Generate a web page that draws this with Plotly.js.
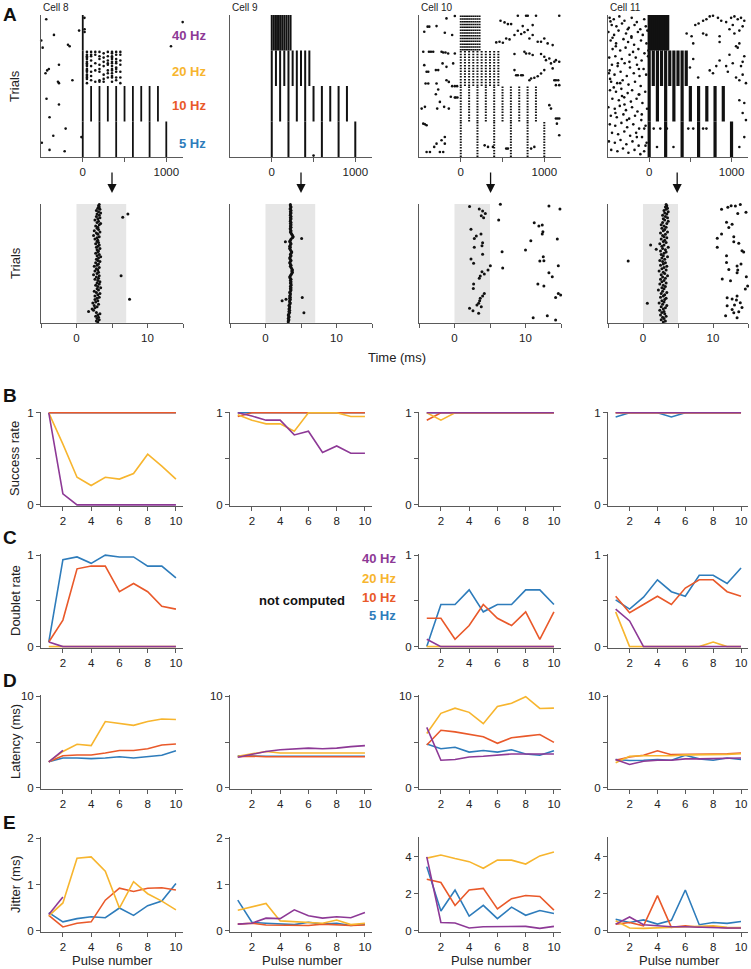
<!DOCTYPE html>
<html><head><meta charset="utf-8">
<script src="https://cdn.plot.ly/plotly-3.0.1.min.js"></script>
<style>html,body{margin:0;padding:0;background:#fff}</style>
</head><body><div id="chart" style="width:751px;height:969px"></div>
<script>
// ---------------- DATA ----------------
const cells = ['Cell 8','Cell 9','Cell 10','Cell 11'];
const freqs = [5,10,20,40];
const freqLabels = ['40 Hz','20 Hz','10 Hz','5 Hz'];
const pulses = [1,2,3,4,5,6,7,8,9,10];

// raster A (top): pulse times per frequency (ms) and trial blocks
const pulseTimes5  = [0,200,400,600,800,1000];
const pulseTimes10 = [0,100,200,300,400,500,600,700,800,900];
const pulseTimes20 = [0,50,100,150,200,250,300,350,400,450];
const pulseTimes40 = [0,25,50,75,100,125,150,175,200,225];
const block5 = [0,25], block10 = [25,50], block20 = [50,75], block40 = [75,100];
// pulses that evoked a spike on every trial, per cell [5Hz,10Hz,20Hz,40Hz]
const fullPulsesCell8  = [[1,2,3,4,5,6],[1,2,3,4,5,6,7,8,9,10],[1],[1]];
const fullPulsesCell9  = [[1,2,3,4,5,6],[1,2,3,4,5,6,7,8,9,10],[1,2,3,4,5,6,7,8,9,10],[1,2,3,4,5,6,7,8,9,10]];
const fullPulsesCell10 = [[1,2,3,4,5,6],[1,2,3,4,5,6,7,8,9,10],[1,2,3,4,5,6,7,8,9,10],[1,2,3,4,5,6,7,8,9,10]];
const fullPulsesCell11 = [[1,2,3,4,5,6],[1,2,3,4,5,6,7,8,9,10],[1,2,3,4,5,6,7,8,9,10],[1,2,3,4,5,6,7,8,9,10]];
// cell 8, 20 Hz: trials with a spike for pulses 1..10 (pulse 1 in every trial)
const cell8Sparse20 = [[],
 [74,72,71,70,69,67,66,65,64,62,61,60,58,57,56,55,52],
 [74,72,71,68,64,60,57,54],
 [74,72,66,61,53],
 [74,71,69,65,62,60,54,53],
 [73,70,67,64,58,55,53],
 [74,71,68,66,65,61,59,56],
 [74,73,71,70,69,67,66,64,62,61,59,57,56,53],
 [74,72,69,67,66,63,62,60,56,54],
 [74,72,68,65,60,56,52]];
// spontaneous spikes (time ms, trial)
const spont8T = [-437,-345,-497,-480,-177,-157,-44,-406,-426,-446,-285,-124,-297,-285,-434,-285,-398,-205,-353,-490,-398,-217,-16,1196,1056,20,22,22];
const spont8Y = [97,86,82,77,79,78,89,62,61,59,65,54,53,52,41,37,28,20,15,10,5,4,14,95,78,98,90,88];
const spont9T = [500];
const spont9Y = [1];
const spont10T = [-437,-397,-377,-290,-191,-171,-71,-103,-449,-381,-357,-330,-230,-210,-183,-151,-71,-437,-409,-389,-298,-270,-218,-171,-91,-421,-389,-290,-270,-171,-143,-103,-71,-44,-71,-60,-40,-298,-429,-468,-250,-199,-143,-282,-449,-429,-409,-191,-230,-290,-318,-409,-369,-250,-210,-191,
 476,524,564,603,683,782,802,901,1179,425,464,504,544,584,643,683,723,762,802,822,861,921,961,1000,1040,1100,861,742,643,762,782,822,861,961,1000,1020,1060,1120,1179,1139,663,683,723,742,822,842,881,921,961,1000,1080,1100,643,1120,1139,1167,1139,1179,1060,1080,1139,1159,1179,1179,1151,286,326,385,544,564,842,881,-119];
const spont10Y = [88.2,91.8,91.8,92.2,87.5,97.6,99.3,85.9,74.1,74.1,74.1,74.1,74.1,73.6,73.6,72.9,72.9,64.7,60,60,61.2,61.2,65.9,63.5,65.9,51.8,51.8,51.8,47.5,54.1,52.9,49.9,49.9,49.9,41.9,41.9,41.9,44.2,35.3,34.1,38.8,35.3,34.1,34.1,23.5,23.1,22.4,14.1,11.8,9.4,7.1,3.5,3.5,3.5,3.5,9.4,
 96,94.8,93.6,93.6,99.5,99.5,99.5,99.5,99.5,80.7,81.2,80.5,83.5,82.8,85.9,88.9,86.6,87.8,89.4,83.5,85.9,81.2,81.2,83.5,80,78.8,92.9,92.2,72.5,74.1,72.9,72.9,71.8,72.5,70.6,68.2,69.4,67.1,67.1,68.2,57.6,57.6,57.6,57.6,54.1,55.3,55.8,56.9,58.8,61.2,65.9,62.4,61.2,54.1,54.1,54.1,50.6,50.6,36.5,34.1,27.1,27.1,27.1,15.3,23.5,8.2,7.1,7.1,5.9,5.9,5.9,7.1,42.4];
const spont11T = [-480,-430,-362,-300,-212,-150,-60,-455,-398,-330,-247,-178,-108,-41,-495,-426,-372,-281,-216,-137,-78,-22,-468,-402,-312,-256,-183,-99,-33,-444,-352,-286,-196,-131,-57,-485,-411,-333,-238,-163,-92,-14,-452,-383,-298,-233,-148,-68,-490,-421,-347,-272,-187,-117,-37,-462,-388,-322,-251,-172,-103,-476,-403,-338,-261,-207,-127,-48,-447,-368,-303,-222,-153,-82,-496,-418,-357,-282,-208,-142,-26,-466,-393,-313,-243,-172,-96,-478,-412,-337,-267,-193,-122,-44,-451,-377,-302,-231,-158,-87,-489,-417,-348,-277,-203,-128,-31,-461,-386,-318,-252,-178,-107,-61,
 -470,-445,-405,-380,-352,-260,-240,-120,-90,-480,-430,-300,-270,-150,-45,-475,-410,-330,-215,-125,-60,-10,
 560,600,655,695,735,775,835,875,935,995,1035,1075,1115,1155,1135,1095,1015,975,455,515,655,695,855,1035,535,855,1095,1055,1075,1155,1135,1115,1015,975,935,855,815,735,775,955,1055,1095,1135,1175,535,495,595,1095,1155,1135,1175,1155,1095,55,135,215,475,535,655,695,95,295];
const spont11Y = [98,97,99,96,98,95,97,93,92,94,91,93,90,92,88,86,89,87,85,88,86,89,82,80,83,81,79,82,80,76,75,77,74,76,73,70,71,69,72,70,68,71,65,64,66,63,65,62,59,58,60,57,59,57,58,53,52,54,51,53,50,47,46,48,45,47,44,46,41,40,42,39,41,38,35,34,36,33,35,32,34,29,28,30,27,29,26,23,22,24,21,23,20,22,17,16,18,15,17,14,11,10,12,9,11,8,10,5,4,6,3,5,2,4,
 95.5,84,78,66,52,90,67,44,30,61,49,37,26,14,8,55,31,43,84,62,20,75,
 93,94,96,97,99,99.5,98,96,95,98,99,97,98,96,92,89,93,90,87,85,87,86,85,87,80,81,80,78,77,71,67,64,66,72,64,68,64,61,59,60,56,54,58,52,69,63,56,40,38,31,26,14,7,20,20,20,20,20,20,20,7,7];

// raster A (bottom): first-spike latency (ms) for each trial, and extra spikes
const lat8 = [3.0,2.8,3.2,2.9,3.1,2.7,3.0,3.3,2.8,1.7, 2.4,2.2,2.6,2.9,2.5,3.1,2.3,2.7,3.0,2.6,
 2.9,3.2,2.6,3.0,3.3,2.8,2.5,3.1,2.9,3.4, 3.0,2.7,3.2,2.9,3.3,3.0,2.6,3.1,2.8,3.2,
 2.4,2.9,3.1,2.6,3.0,2.8,3.2,2.5,2.9,3.1, 2.7,3.3,3.0,2.8,3.1,3.4,2.9,3.2,2.7,3.0,
 3.1,2.9,3.3,2.8,3.0,3.2,2.7,3.1,2.9,3.0, 2.6,2.9,3.2,2.4,3.0,2.8,3.3,2.5,3.1,2.9,
 3.0,2.7,3.2,3.4,2.9,3.1,2.6,3.0,3.3,2.8, 3.2,2.9,3.4,3.1,2.8,3.3,3.0,3.2,3.1,3.2];
const extra8T = [6.51,7.24,6.28,7.47], extra8Y = [88.8,91.6,39.6,19.7];
const lat9 = [3.2,3.2,3.3,3.2,3.3,3.3,3.2,3.3,3.4,3.3, 3.4,3.3,3.4,3.4,3.3,3.4,3.5,3.4,3.4,3.5,
 3.4,3.5,3.4,3.5,3.5,3.4,3.5,3.6,3.5,3.6, 3.5,3.6,3.6,3.5,3.6,3.5,3.6,3.5,3.4,3.5,
 3.6,3.7,3.8,3.7,3.8,3.7,3.6,3.5,3.6,3.5, 3.4,3.5,3.6,3.5,3.4,3.5,3.6,3.5,3.6,3.7,
 3.6,3.5,3.4,3.5,3.4,3.5,3.6,3.5,3.4,3.5, 3.6,3.8,3.9,3.8,3.7,3.6,3.5,3.6,3.5,3.5,
 3.6,3.5,3.6,3.5,3.6,3.5,3.5,3.6,3.5,3.6, 3.5,3.5,3.6,3.5,3.6,3.5,3.5,3.6,3.5,3.5];
const extra9T = [5.09,2.8,2.34,2.89,5.18,5.41], extra9Y = [71,68.3,18.5,19.7,21.3,8.4];
const spikes10T = [2.12,3.49,3.96,4.34,3.77,4.1,2.32,3.73,3.07,2.79,3.96,3.87,2.79,3.96,2.32,2.69,5.05,4.72,3.87,4.2,3.63,3.49,2.69,2.65,4.2,3.96,3.63,3.54,3.4,3.16,3.77,2.12,2.6,3.4,
 6.46,6.22,6.7,6.79,10,10.75,11.23,11.88,12.36,12.45,12.36,13.3,14.85,14.48,12.5,12.59,12.02,13.3,13.77,11.74,12.59,14.62,14.62,14.24,14.95,11.08,13.07,14.24];
const spikes10Y = [97.8,95.8,94.1,92.1,90.2,88.5,78.7,74.7,73,71,67.4,64.9,63.5,57.6,53.7,50,48,44.4,43,41,39.3,37.4,32.6,28.9,24.7,22.5,20.5,18.5,16.3,14.9,13.5,12.1,10.1,7.9,
 99.7,86.5,59.8,46,61.2,69.1,84.3,81.5,82.3,76.7,74.7,98.3,95.8,70.5,55.6,52.2,52,42.1,38.8,32.6,30.9,48,24.7,21.3,23.3,4.2,5.9,2.2];
const lat11 = [2.9,3.2,2.6,3.0,2.8,3.3,2.5,3.1,2.7,3.0, 2.4,2.9,3.2,2.6,3.4,2.8,2.3,3.0,2.7,3.1,
 3.3,2.5,2.9,3.1,2.6,3.4,2.8,2.2,3.0,2.7, 3.2,2.9,2.4,3.3,2.7,3.0,2.5,3.2,2.8,3.5,
 2.6,3.1,2.9,2.3,3.3,2.7,3.0,3.4,2.5,2.9, 3.2,2.8,2.4,3.1,2.7,3.5,2.9,2.6,3.0,3.3,
 2.5,3.2,2.8,3.6,2.7,3.0,2.4,3.3,2.9,3.1, 2.6,3.4,3.0,2.8,3.2,2.5,3.5,2.9,3.1,2.7,
 3.3,3.0,2.6,3.4,2.8,3.6,3.1,2.9,3.5,3.2, 2.8,3.4,3.1,3.6,3.0,3.3,3.5,3.2,3.4,3.3];
const extra11T = [-2.12,0.62,1.09,1.89,11.22,12.12,12.59,13.2,13.9,13.54,14.71,11.93,12.73,12.26,10.61,11.22,12.97,12.97,13.68,10.61,14.14,14.38,11.93,11.93,13.44,14.0,13.54,13.44,12.26,11.32,12.5,14.76,14.95,14.62,12.02,12.73,13.44,13.35,13.07,12.02,13.9,14.14,12.73,13.68,11.8,12.97,13.44];
const extra11Y = [52,16.3,65.4,61.8,95.5,97.2,98.6,98.3,99.5,92.1,93,84.6,82.9,80.1,71.1,74.7,72.5,68.3,66.9,63.5,60.7,59.6,56.5,50.8,47.8,49.4,44.4,42.1,44.9,36.8,35.4,38.8,30.9,28.4,21.1,19.9,22.5,19.1,14.9,14.3,16.9,12.9,11.2,9.3,5.9,8.4,4.2];
const windowMs = [7,7,5,5];

// B: success rate, per cell
const success5  = [[1,1,1,1,1,1,1,1,1,1],[1,1,1,1,1,1,1,1,1,1],[1,1,1,1,1,1,1,1,1,1],[0.955,1,1,1,0.955,1,1,1,1,1]];
const success10 = [[1,1,1,1,1,1,1,1,1,1],[0.96,1,1,1,1,1,1,1,1,1],[0.92,1,1,1,1,1,1,1,1,1],[1,1,1,1,1,1,1,1,1,1]];
const success20 = [[1,0.66,0.30,0.21,0.30,0.28,0.34,0.55,0.42,0.28],[0.98,0.92,0.88,0.88,0.80,1,1,1,0.96,0.96],[1,0.92,1,1,1,1,1,1,1,1],[1,1,1,1,1,1,1,1,1,1]];
const success40 = [[1,0.12,0,0,0,0,0,0,0,0],[1,0.965,0.92,0.92,0.76,0.80,0.57,0.64,0.56,0.56],[1,1,1,1,1,1,1,1,1,1],[1,1,1,1,1,1,1,1,1,1]];
// C: doublet rate (cell 9 not computed)
const doublet5  = [[0.05,0.95,0.98,0.91,1.0,0.98,0.98,0.88,0.88,0.75],null,[0,0.46,0.46,0.62,0.38,0.46,0.46,0.62,0.62,0.46],[0.51,0.41,0.54,0.73,0.60,0.55,0.78,0.78,0.69,0.86]];
const doublet10 = [[0.05,0.29,0.85,0.88,0.88,0.60,0.69,0.60,0.44,0.41],null,[0.31,0.31,0.08,0.23,0.46,0.31,0.23,0.38,0.08,0.38],[0.55,0.37,0.46,0.55,0.46,0.64,0.73,0.73,0.60,0.55]];
const doublet20 = [[0,0,0,0,0,0,0,0,0,0],null,[0,0,0,0,0,0,0,0,0,0],[0.38,0,0,0,0,0,0,0.05,0,0]];
const doublet40 = [[0.05,0,0,0,0,0,0,0,0,0],null,[0.08,0,0,0,0,0,0,0,0,0],[0.41,0.28,0,0,0,0,0,0,0,0]];
// D: latency (ms)
const latency5  = [[2.84,3.26,3.26,3.19,3.26,3.40,3.26,3.44,3.55,4.04],[3.5,3.45,3.45,3.45,3.45,3.45,3.45,3.45,3.45,3.45],[4.79,4.26,4.43,3.90,4.08,3.90,4.15,3.69,3.55,4.04],[3.09,2.98,3.01,3.09,3.01,3.55,3.16,3.01,3.26,3.09]];
const latency10 = [[2.84,3.5,3.58,3.58,3.8,4.08,4.08,4.26,4.68,4.79],[3.4,3.45,3.4,3.4,3.4,3.4,3.4,3.4,3.4,3.4],[4.68,6.28,6.10,5.85,5.57,4.86,5.46,5.64,5.82,4.96],[3.01,3.37,3.55,4.04,3.62,3.62,3.62,3.69,3.72,3.80]];
const latency20 = [[2.84,3.97,4.75,4.6,7.23,7.06,6.81,7.23,7.5,7.45],[3.44,3.69,3.97,3.8,3.8,3.8,3.8,3.8,3.8,3.8],[5.92,8.12,8.69,8.23,6.99,8.87,9.22,9.93,8.65,8.69],[2.73,3.44,3.5,3.5,3.5,3.6,3.6,3.6,3.65,3.72]];
const latency40 = [[2.84,4.08,null,null,null,null,null,null,null,null],[3.33,3.69,3.97,4.15,4.26,4.33,4.26,4.33,4.5,4.6],[6.6,3.01,3.09,3.37,3.44,3.55,3.69,3.69,3.72,3.69],[3.09,2.55,2.91,3.01,3.01,3.16,3.16,3.19,3.26,3.26]];
// E: jitter (ms)
const jitter5  = [[0.39,0.19,0.26,0.30,0.28,0.49,0.33,0.54,0.64,1.02],[0.66,0.18,0.16,0.14,0.13,0.18,0.14,0.16,0.11,0.14],[3.47,1.06,2.2,0.79,1.37,0.65,1.27,0.83,1.09,0.93],[0.62,0.44,0.58,0.35,0.56,2.2,0.32,0.44,0.39,0.49]];
const jitter10 = [[0.33,0.08,0.16,0.19,0.66,0.92,0.85,0.92,0.93,0.88],[0.14,0.16,0.12,0.12,0.12,0.11,0.14,0.13,0.11,0.12],[2.78,2.61,1.36,2.2,2.29,1.18,1.73,1.9,1.85,1.11],[0.35,0.44,0.26,1.9,0.18,0.26,0.18,0.21,0.14,0.14]];
const jitter20 = [[0.32,0.6,1.57,1.6,1.29,0.49,1.06,0.8,0.64,0.45],[0.44,0.51,0.59,0.21,0.19,0.18,0.16,0.23,0.13,0.16],[3.93,4.1,3.91,3.74,3.38,3.82,3.82,3.61,4.05,4.26],[0.53,0.14,0.12,0.14,0.16,0.18,0.21,0.26,0.18,0.16]];
const jitter40 = [[0.35,0.73,null,null,null,null,null,null,null,null],[0.14,0.16,0.27,0.26,0.45,0.32,0.27,0.30,0.28,0.39],[4.0,0.44,0.41,0.14,0.21,0.21,0.23,0.23,0.12,0.23],[0.35,0.74,0.32,0.26,0.21,0.21,0.18,0.14,0.14,0.14]];

// ---------------- BUILD ----------------
const W=751,H=969;
const px=x=>x/W, py=y=>1-y/H;
const colPx=[[41,183],[230,372],[419,561],[608,748]];
const rowPx=[[15,157],[204,322.7],[411.7,506],[554,647.7],[695,789],[837.3,931.7]];
const colors={5:'#2E7CBB',10:'#E9592A',20:'#F7B52E',40:'#8D3996'};
const FONT='Liberation Sans, Arial, sans-serif';
const axN=(p,k)=>k===1?p:p+k;
const layout={width:W,height:H,margin:{l:0,r:0,t:0,b:0},paper_bgcolor:'#fff',plot_bgcolor:'rgba(0,0,0,0)',
  showlegend:false,font:{family:FONT,color:'#222'},annotations:[],shapes:[]};
const baseAx={showline:true,linecolor:'#5a5a5a',linewidth:1,ticks:'outside',ticklen:4,tickwidth:1,tickcolor:'#5a5a5a',
  showgrid:false,zeroline:false,fixedrange:true,tickfont:{size:11.5,color:'#222',family:FONT}};
for(let r=0;r<6;r++)for(let c=0;c<4;c++){
  const k=r*4+c+1;
  const xa=Object.assign({},baseAx,{domain:[px(colPx[c][0]),px(colPx[c][1])],anchor:axN('y',k)});
  const ya=Object.assign({},baseAx,{domain:[py(rowPx[r][1]),py(rowPx[r][0])],anchor:axN('x',k)});
  if(r===0){xa.range=[-500,1200];xa.tickvals=[0,500,1000];xa.ticktext=['0','','1000'];ya.range=[0,100];ya.ticks='';ya.showticklabels=false;}
  else if(r===1){xa.range=[-5,15];xa.tickvals=[-5,0,5,10,15];xa.ticktext=['','0','','10',''];ya.range=[0,100];ya.ticks='';ya.showticklabels=false;}
  else{
    xa.range=[0.45,10.5];xa.tickvals=[2,4,6,8,10];
    if(r===2||r===3){ya.range=[-0.012,1.012];ya.tickvals=[0,0.5,1];ya.ticktext=['0','','1'];}
    if(r===4){ya.range=[-0.12,10.12];ya.tickvals=[0,5,10];ya.ticktext=['0','','10'];}
    if(r===5){ if(c<2){ya.range=[-0.024,2.024];ya.tickvals=[0,1,2];} else {ya.range=[-0.06,5.06];ya.tickvals=[0,2,4];} }
    if(r===3&&c===1){xa.ticks='';xa.showticklabels=false;ya.ticks='';ya.showticklabels=false;ya.range=[0,1];}
  }
  layout[axN('xaxis',k)]=xa; layout[axN('yaxis',k)]=ya;
}
const traces=[];
const ref=k=>({xaxis:axN('x',k),yaxis:axN('y',k)});

// top rasters
const ptimes={5:pulseTimes5,10:pulseTimes10,20:pulseTimes20,40:pulseTimes40};
const blocks={5:block5,10:block10,20:block20,40:block40};
const fullPulses=[fullPulsesCell8,fullPulsesCell9,fullPulsesCell10,fullPulsesCell11];
const colStyle=[{width:1.8},{width:2},{width:2,dash:'1.5px,1.3px'},{width:3.2}];
for(let c=0;c<4;c++){
  const k=c+1;
  if(colStyle[c].dash){
    freqs.forEach((f,fi)=>fullPulses[c][fi].forEach(p=>{
      const t=ptimes[f][p-1];
      traces.push(Object.assign({x:[t,t],y:[blocks[f][0],blocks[f][1]],mode:'lines',hoverinfo:'skip',
        line:{color:'#111',width:colStyle[c].width,dash:colStyle[c].dash}},ref(k)));
    }));
  } else {
    const xs=[],ys=[];
    freqs.forEach((f,fi)=>fullPulses[c][fi].forEach(p=>{
      const t=ptimes[f][p-1]; xs.push(t,t,null); ys.push(blocks[f][0],blocks[f][1],null);
    }));
    traces.push(Object.assign({x:xs,y:ys,mode:'lines',hoverinfo:'skip',line:{color:'#111',width:colStyle[c].width}},ref(k)));
  }
}
// cell 8 sparse 20 Hz spikes
{
  const xs=[],ys=[];
  cell8Sparse20.forEach((trials,i)=>trials.forEach(tr=>{xs.push(pulseTimes20[i]);ys.push(tr);}));
  traces.push(Object.assign({x:xs,y:ys,mode:'markers',marker:{size:2.6,color:'#111'},cliponaxis:false,hoverinfo:'skip'},ref(1)));
}
[[spont8T,spont8Y],[spont9T,spont9Y],[spont10T,spont10Y],[spont11T,spont11Y]].forEach((d,c)=>{
  traces.push(Object.assign({x:d[0],y:d[1],mode:'markers',marker:{size:2.6,color:'#111'},cliponaxis:false,hoverinfo:'skip'},ref(c+1)));
});
// bottom rasters
const trialIdx=a=>a.map((_,i)=>i+0.5);
const bottomSets=[[lat8,trialIdx(lat8)],[lat9,trialIdx(lat9)],[spikes10T,spikes10Y],[lat11,trialIdx(lat11)]];
const bottomExtra=[[extra8T,extra8Y],[extra9T,extra9Y],[[],[]],[extra11T,extra11Y]];
for(let c=0;c<4;c++){
  const k=4+c+1;
  traces.push(Object.assign({x:bottomSets[c][0],y:bottomSets[c][1],mode:'markers',marker:{size:3,color:'#111'},cliponaxis:false,hoverinfo:'skip'},ref(k)));
  traces.push(Object.assign({x:bottomExtra[c][0],y:bottomExtra[c][1],mode:'markers',marker:{size:3,color:'#111'},cliponaxis:false,hoverinfo:'skip'},ref(k)));
  layout.shapes.push({type:'rect',xref:axN('x',k),yref:axN('y',k)+' domain',x0:0,x1:windowMs[c],y0:0,y1:1,fillcolor:'#e6e6e6',line:{width:0},layer:'below'});
}
// line panels
const metricSets=[
  {5:success5,10:success10,20:success20,40:success40},
  {5:doublet5,10:doublet10,20:doublet20,40:doublet40},
  {5:latency5,10:latency10,20:latency20,40:latency40},
  {5:jitter5,10:jitter10,20:jitter20,40:jitter40}];
metricSets.forEach((m,mi)=>{
  for(let c=0;c<4;c++){
    const k=(mi+2)*4+c+1;
    freqs.forEach(f=>{
      if(!m[f][c]) return;
      traces.push(Object.assign({x:pulses,y:m[f][c],mode:'lines',line:{color:colors[f],width:1.6},hoverinfo:'skip'},ref(k)));
    });
  }
});

// annotations
const A=layout.annotations;
const txt=(t,x,y,o)=>A.push(Object.assign({text:t,x:px(x),y:py(y),xref:'paper',yref:'paper',showarrow:false,
  xanchor:'center',yanchor:'middle',font:{family:FONT,size:13,color:'#222'}},o||{}));
[['A',14],['B',395],['C',537],['D',680],['E',822]].forEach(([l,y])=>txt('<b>'+l+'</b>',1,y,{xanchor:'left',font:{family:FONT,size:19,color:'#111'}}));
cells.forEach((n,c)=>txt(n,colPx[c][0],7,{xanchor:'left',font:{family:FONT,size:10,color:'#222'}}));
txt('Trials',15,86,{textangle:-90});
txt('Trials',15,263,{textangle:-90});
txt('Time (ms)',397,357);
txt('Success rate',15,459,{textangle:-90});
txt('Doublet rate',15,601,{textangle:-90});
txt('Latency (ms)',15,742,{textangle:-90});
txt('Jitter (ms)',15,884,{textangle:-90});
colPx.forEach(cp=>txt('Pulse number',(cp[0]+cp[1])/2+1,960));
const legColors=[colors[40],colors[20],colors[10],colors[5]];
[35,71,106,143].forEach((y,i)=>txt('<b>'+freqLabels[i]+'</b>',208,y,{xanchor:'right',font:{family:FONT,size:13,color:legColors[i]}}));
[558,578,597,615].forEach((y,i)=>txt('<b>'+freqLabels[i]+'</b>',398,y,{xanchor:'right',font:{family:FONT,size:13,color:legColors[i]}}));
txt('<b>not computed</b>',302,600,{font:{family:FONT,size:13,color:'#111'}});
// arrows from top raster to zoomed raster
[350,350,357,340].forEach((t,c)=>A.push({x:t,y:py(193),xref:axN('x',c+1),yref:'paper',text:'',showarrow:true,
  ax:0,ay:-22,arrowhead:2,arrowsize:1.4,arrowwidth:1.3,arrowcolor:'#111'}));

Plotly.newPlot('chart',traces,layout,{displayModeBar:false,staticPlot:true});
</script></body></html>
